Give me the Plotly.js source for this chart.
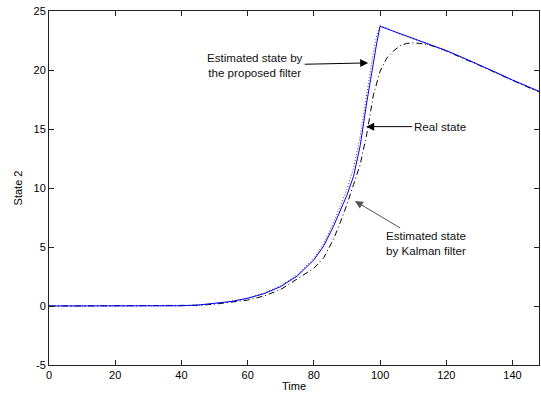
<!DOCTYPE html>
<html>
<head>
<meta charset="utf-8">
<script src="https://cdn.plot.ly/plotly-3.0.1.min.js"></script>
<style>html,body{margin:0;padding:0;background:#fff;}#chart{width:541px;height:396px;}</style>
</head>
<body>
<div id="chart"></div>
<script>
// Estimated state by the proposed filter (solid blue)
const timeProposed = [0,10,20,30,40,45,50,55,60,65,70,75,80,83,86,88,90,92,94,96,98,99,100,105,110,115,120,125,130,135,140,145,148];
const proposed     = [0,0,0,0,0.02,0.08,0.2,0.38,0.65,1.05,1.65,2.55,3.9,5.1,6.8,8.1,9.4,11.0,13.6,17.3,20.9,22.3,23.7,23.2,22.7,22.2,21.65,21.05,20.45,19.8,19.15,18.55,18.2];

// Real state (dotted black)
const timeReal = [0,10,20,30,40,45,50,55,60,65,70,75,80,83,86,88,90,92,94,96,98,99,100,105,110,115,120,125,130,135,140,145,148];
const realState = [0,0,0,0,0.02,0.08,0.2,0.4,0.68,1.1,1.72,2.65,4.05,5.3,7.1,8.5,9.9,11.7,14.4,18.0,21.6,22.9,23.8,23.15,22.65,22.15,21.6,21.0,20.4,19.75,19.1,18.5,18.15];

// Estimated state by Kalman filter (dash-dot black)
const timeKalman = [0,10,20,30,40,45,50,55,60,65,70,75,80,83,86,88,90,92,94,96,98,100,102,104,106,108,110,112,115,118,120,125,130,135,140,145,148];
const kalman     = [0,0,0,0,0.01,0.06,0.15,0.3,0.5,0.85,1.4,2.3,3.2,4.1,5.7,7.1,8.6,10.3,12.0,14.6,17.9,19.9,21.0,21.6,22.05,22.25,22.3,22.25,22.1,21.85,21.62,21.0,20.4,19.75,19.1,18.5,18.15];

const xTicks = [0,20,40,60,80,100,120,140];
const yTicks = [-5,0,5,10,15,20,25];

const font = {family: 'Liberation Sans, Arial, sans-serif', size: 11, color: '#000'};
const annFont = {family: 'Liberation Sans, Arial, sans-serif', size: 11.6, color: '#111'};

const traces = [
  {x: timeKalman, y: kalman, mode: 'lines', line: {color: '#000', width: 1, dash: '6px,3px,1px,3px'}, hoverinfo: 'skip'},
  {x: timeReal, y: realState, mode: 'lines', line: {color: '#444', width: 1, dash: '1px,2px'}, hoverinfo: 'skip'},
  {x: timeProposed, y: proposed, mode: 'lines', line: {color: '#0000ff', width: 1}, hoverinfo: 'skip'}
];

const axisCommon = {
  showgrid: false, zeroline: false, showline: true, linecolor: '#222', linewidth: 1,
  mirror: 'ticks', ticks: 'inside', ticklen: 5, tickcolor: '#222', tickfont: font
};

const layout = {
  width: 541, height: 396,
  margin: {l: 49, r: 2, t: 11, b: 31},
  paper_bgcolor: '#fff', plot_bgcolor: '#fff',
  showlegend: false,
  font: font,
  xaxis: Object.assign({}, axisCommon, {range: [0,148], tickvals: xTicks, ticktext: xTicks.map(String),
    title: {text: 'Time', font: font, standoff: 2}}),
  yaxis: Object.assign({}, axisCommon, {range: [-5,25], tickvals: yTicks, ticktext: yTicks.map(String),
    title: {text: 'State 2', font: font, standoff: 8}}),
  annotations: [
    {x: 96.4, y: 20.6, xref: 'x', yref: 'y', ax: 62.3, ay: 20.4, axref: 'x', ayref: 'y',
     text: 'Estimated state by<br>the proposed filter', showarrow: true, arrowhead: 2, arrowsize: 1.6, arrowwidth: 1,
     arrowcolor: '#000', font: annFont, align: 'center'},
    {x: 95.8, y: 15.2, xref: 'x', yref: 'y', ax: 118.0, ay: 15.2, axref: 'x', ayref: 'y',
     text: 'Real state', showarrow: true, arrowhead: 2, arrowsize: 1.6, arrowwidth: 1,
     arrowcolor: '#000', font: annFont, align: 'center'},
    {x: 92.4, y: 8.9, xref: 'x', yref: 'y', ax: 113.9, ay: 5.3, axref: 'x', ayref: 'y',
     text: 'Estimated state<br>by Kalman filter', showarrow: true, arrowhead: 2, arrowsize: 1.6, arrowwidth: 1,
     arrowcolor: '#555', font: annFont, align: 'center'}
  ]
};

Plotly.newPlot('chart', traces, layout, {staticPlot: true, displayModeBar: false});
</script>
</body>
</html>
